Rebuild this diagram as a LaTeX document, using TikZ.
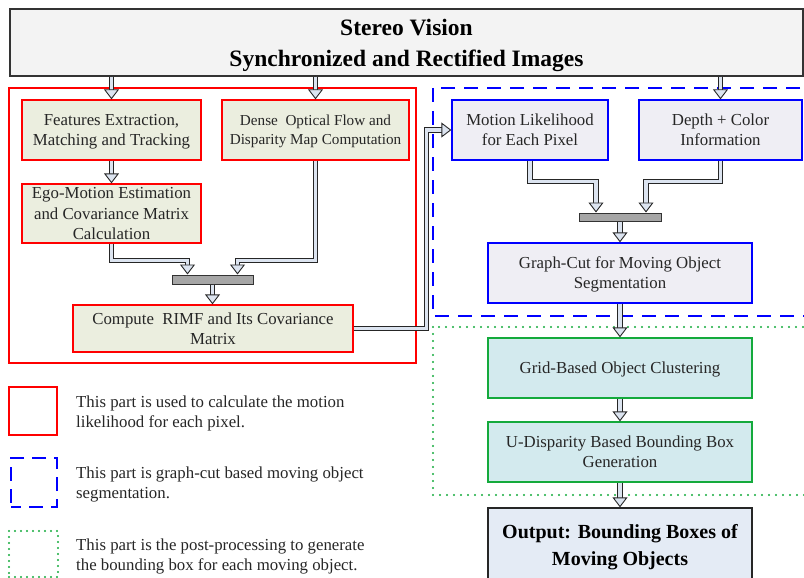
\documentclass[tikz,border=0pt]{standalone}
\usepackage{fontspec}
\setmainfont{Liberation Serif}
\usetikzlibrary{arrows.meta}
\definecolor{olivebox}{RGB}{235,238,223}
\definecolor{lilabox}{RGB}{239,238,244}
\definecolor{cyanbox}{RGB}{211,234,238}
\definecolor{outbox}{RGB}{228,235,245}
\definecolor{topbox}{RGB}{243,243,243}
\definecolor{flecha}{RGB}{220,228,240}
\definecolor{verde}{RGB}{20,170,60}
\definecolor{barra}{RGB}{166,166,166}

\begin{document}
\begin{tikzpicture}[x = 1pt, y = -1pt,
		box/.style = {draw, line width = 1.3pt, align = center, inner sep = 0pt, text depth = 0pt, text = black!85, font = \fontsize{16.8}{20}\selectfont},
		redbox/.style = {box, draw = red, fill = olivebox},
		bluebox/.style = {box, draw = blue, fill = lilabox},
		greenbox/.style = {box, draw = verde, fill = cyanbox},
		bar/.style = {draw = black!80, line width = 1pt, fill = barra, minimum width = 81pt, minimum height = 9pt, inner sep = 0pt},
		flow/.style = {draw = black!85, line width = 0.9pt, double = flecha, double distance = 3.4pt, -{Triangle[open, fill = flecha, length = 10pt, width = 15pt, line width = 0.9pt]}},
		legtext/.style = {anchor = west, align = left, inner sep = 0pt, text = black!85, font = \fontsize{16.8}{20}\selectfont}]
	\useasboundingbox (0,0) rectangle (804,578);
	\draw[red, line width = 1.6pt] (9,88) rectangle (416,363);
	\draw[blue, line width = 2pt, dash pattern = on 14pt off 9pt] (433,88) rectangle (814,316);
	\draw[verde, line width = 2.2pt, dash pattern = on 0pt off 7pt, line cap = round] (433,327) rectangle (814,495);
	\node[box, draw = black!80, fill = topbox, minimum width = 793pt, minimum height = 67pt, font = \bfseries\fontsize{23.5}{31}\selectfont, text = black] (input) at (406.5,42.5) {Stereo Vision\\Synchronized and Rectified Images};
	\node[redbox, minimum width = 179pt, minimum height = 60pt] (feat) at (111.5,130) {Features Extraction,\\Matching and Tracking};
	\node[redbox, minimum width = 187pt, minimum height = 60pt, font = \fontsize{15.2}{19}\selectfont] (dense) at (315.5,130) {Dense\ \ Optical Flow and\\Disparity Map Computation};
	\node[redbox, minimum width = 179pt, minimum height = 59pt, font = \fontsize{16.8}{20.5}\selectfont] (ego) at (111.5,213.5) {Ego-Motion Estimation\\and Covariance Matrix\\Calculation};
	\node[bar] (bar1) at (212.5,279.5) {};
	\node[redbox, minimum width = 280pt, minimum height = 47pt] (rimf) at (213,328.5) {Compute\ \ RIMF and Its Covariance\\Matrix};
	\node[bluebox, minimum width = 156pt, minimum height = 60pt] (motion) at (530,130) {Motion Likelihood\\for Each Pixel};
	\node[bluebox, minimum width = 163pt, minimum height = 60pt] (depth) at (720.5,130) {Depth + Color\\Information};
	\node[bar, minimum width = 82pt, minimum height = 8pt] (bar2) at (620,217) {};
	\node[bluebox, minimum width = 264pt, minimum height = 60pt] (gcut) at (620,273) {Graph-Cut for Moving Object\\Segmentation};
	\node[greenbox, minimum width = 264pt, minimum height = 60pt] (grid) at (620,368) {Grid-Based Object Clustering};
	\node[greenbox, minimum width = 264pt, minimum height = 60pt] (udisp) at (620,452) {U-Disparity Based Bounding Box\\Generation};
	\node[box, draw = black!85, fill = outbox, minimum width = 264pt, minimum height = 74pt, font = \bfseries\fontsize{20}{27}\selectfont, text = black] (output) at (620,545) {Output: Bounding Boxes of\\Moving Objects};
	\draw[flow] (input.south -| feat.north) -- (feat.north);
	\draw[flow] (input.south -| dense.north) -- (dense.north);
	\draw[flow] (input.south -| depth.north) -- (depth.north);
	\draw[flow] (feat.south) -- (ego.north);
	\draw[flow] (ego.south) -- ++(0,17) -| ([xshift = -25pt]bar1.north);
	\draw[flow] (dense.south) -- ++(0,100) -| ([xshift = 25pt]bar1.north);
	\draw[flow] (bar1.south) -- (bar1.south |- rimf.north);
	\draw[flow] (rimf.east) -| ([xshift = -25pt]motion.west) -- (motion.west);
	\draw[flow] (motion.south) -- ++(0,21) -| ([xshift = -24pt]bar2.north);
	\draw[flow] (depth.south) -- ++(0,21) -| ([xshift = 26pt]bar2.north);
	\draw[flow] (bar2.south) -- (gcut.north);
	\draw[flow] (gcut.south) -- (grid.north);
	\draw[flow] (grid.south) -- (udisp.north);
	\draw[flow] (udisp.south) -- (output.north);
	\node[draw = red, line width = 1.6pt, minimum width = 48pt, minimum height = 48pt, inner sep = 0pt] (keyred) at (33,411) {};
	\node[legtext] (legred) at (76,413) {This part is used to calculate the motion\\likelihood for each pixel.};
	\node[draw = blue, line width = 1.6pt, dash pattern = on 14pt off 8pt, dash phase = 4pt, minimum width = 46pt, minimum height = 49pt, inner sep = 0pt] (keyblue) at (34,482.5) {};
	\node[legtext] (legblue) at (76,484) {This part is graph-cut based moving object\\segmentation.};
	\node[draw = verde, line width = 2.2pt, dash pattern = on 0pt off 6pt, line cap = round, minimum width = 49pt, minimum height = 46pt, inner sep = 0pt] (keygreen) at (33.5,554) {};
	\node[legtext] (leggreen) at (76,556) {This part is the post-processing to generate\\the bounding box for each moving object.};
\end{tikzpicture}
\end{document}
